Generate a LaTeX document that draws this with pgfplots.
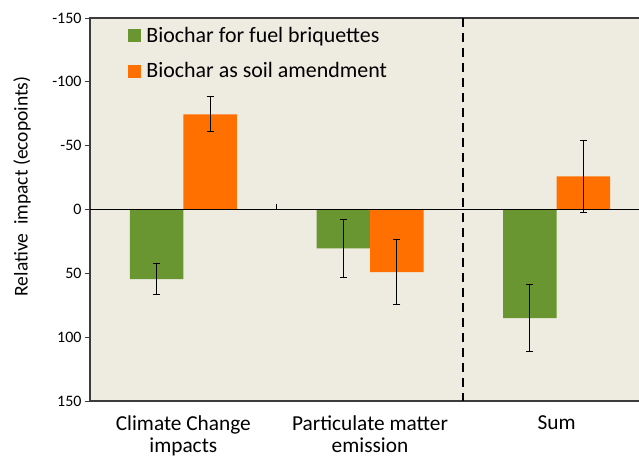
\documentclass[border=0pt]{standalone}
\usepackage{fontspec}
\setmainfont{Carlito}
\usepackage{pgfplots}
\pgfplotsset{compat=1.18}
\definecolor{bgc}{RGB}{238,235,224}
\definecolor{grn}{RGB}{106,150,50}
\definecolor{org}{RGB}{255,112,0}
\definecolor{axc}{RGB}{60,60,60}
\begin{document}
\begin{tikzpicture}
\begin{axis}[
  scale only axis, width=560bp, height=383bp,
  xmin=0, xmax=3, ymin=-150, ymax=150, y dir=reverse,
  ybar, bar shift=0pt, bar width=0.2866,
  axis background/.style={fill=bgc},
  axis line style={axc, line width=1.3bp},
  xtick={0.5,1.5,2.5},
  xticklabels={{Climate Change\\impacts},{Particulate matter\\emission},{Sum}},
  xticklabel style={align=center, font=\fontsize{21.4}{22}\selectfont, yshift=-6bp},
  x tick style={draw=none},
  ytick={-150,-100,...,150},
  yticklabel style={font=\fontsize{16}{19}\selectfont},
  /pgf/number format/assume math mode=true,
  y tick style={axc, line width=1bp},
  tick align=outside, ytick pos=left,
  major tick length=5bp,
  ylabel={Relative\ \ impact (ecopoints)},
  ylabel style={font=\fontsize{19.6}{24}\selectfont, at={(axis description cs:-0.1214,0.56)}, anchor=center},
  legend style={at={(axis description cs:0,1)}, anchor=north west, xshift=38bp, yshift=-7bp, draw=none, fill=none, font=\fontsize{22}{26}\selectfont, row sep=14.5bp, inner sep=0pt, cells={anchor=west}},
]
\addlegendimage{legend image code/.code={\fill[grn] (0bp,-6bp) rectangle (12bp,6bp); \path[draw=none,fill=none] (0bp,-6bp) rectangle (16bp,6bp);}}
\addlegendentry{Biochar for fuel briquettes}
\addlegendimage{legend image code/.code={\fill[org] (0bp,-6bp) rectangle (12bp,6bp); \path[draw=none,fill=none] (0bp,-6bp) rectangle (16bp,6bp);}}
\addlegendentry{Biochar as soil amendment}
\addplot[fill=grn, draw=none, forget plot,
  error bars/.cd, y dir=both, y explicit,
  error bar style={draw=black, line width=1bp},
  error mark=-,
  error mark options={draw=black, line width=1bp, mark size=3.5bp, rotate=90}]
  coordinates {(0.3567,54.5) +- (0,12.3) (1.3567,30.5) +- (0,23) (2.3567,85) +- (0,26)};
\addplot[fill=org, draw=none, forget plot,
  error bars/.cd, y dir=both, y explicit,
  error bar style={draw=black, line width=1bp},
  error mark=-,
  error mark options={draw=black, line width=1bp, mark size=3.5bp, rotate=90}]
  coordinates {(0.6433,-74.5) +- (0,13.7) (1.6433,49) +- (0,25.2) (2.6433,-25.9) +- (0,28.5)};
\draw[black, line width=1.1bp] (axis cs:0,0) -- (axis cs:3,0);
\draw[black, line width=1.1bp] (axis cs:1,0) -- (axis cs:1,-4.5);
\draw[black, line width=2bp, dash pattern=on 9bp off 6bp] (axis cs:2,-150) -- (axis cs:2,150);
\coordinate (O) at (axis description cs:0,0);
\end{axis}
\pgfresetboundingbox
\useasboundingbox ([shift={(-90bp,-57bp)}]O) rectangle ([shift={(549bp,401bp)}]O);
\end{tikzpicture}
\end{document}
